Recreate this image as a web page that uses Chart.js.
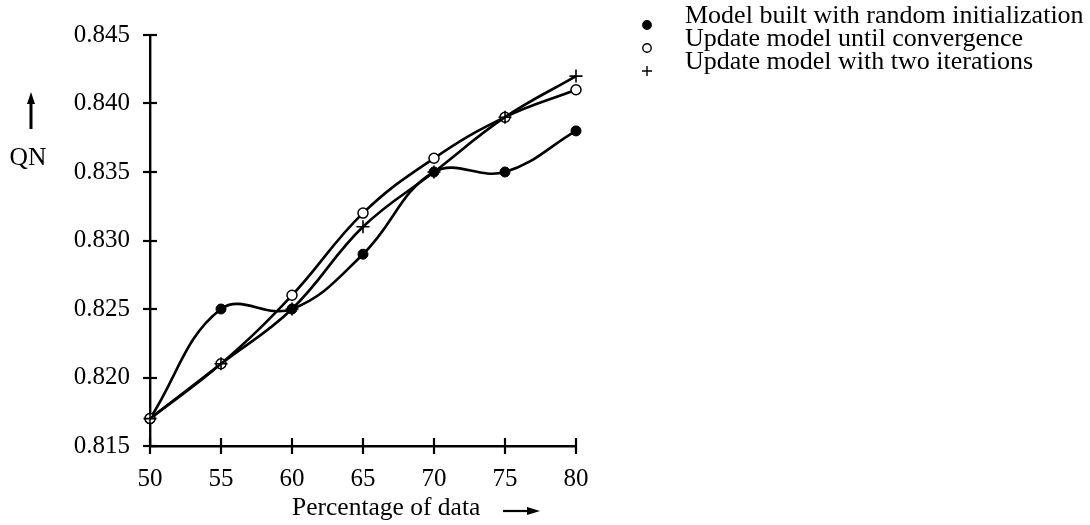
<!DOCTYPE html>
<html>
<head>
<meta charset="utf-8">
<script src="https://cdn.jsdelivr.net/npm/chart.js@4/dist/chart.umd.min.js"></script>
<style>
  html, body { margin: 0; padding: 0; background: #ffffff; }
  #wrap { width: 1090px; height: 525px; position: relative; }
</style>
</head>
<body>
<div id="wrap"><canvas id="chart" width="1090" height="525"></canvas></div>
<script>
// Percentage of data used (x) and QN score for each update strategy
const percentages = [50, 55, 60, 65, 70, 75, 80];
const randomInit = [0.817, 0.825, 0.825, 0.829, 0.835, 0.835, 0.838];
const untilConvergence = [0.817, 0.821, 0.826, 0.832, 0.836, 0.839, 0.841];
const twoIterations = [0.817, 0.821, 0.825, 0.831, 0.835, 0.839, 0.842];
const seriesLabels = [
  'Model built with random initialization',
  'Update model until convergence',
  'Update model with two iterations'
];
const xTicks = [50, 55, 60, 65, 70, 75, 80];
const yTicks = [0.815, 0.820, 0.825, 0.830, 0.835, 0.840, 0.845];
const xTitle = 'Percentage of data';
const yTitle = 'QN';

const FONT = '"Liberation Serif", "Times New Roman", serif';
const INK = '#000000';

function toPoints(values) {
  return percentages.map((p, i) => ({ x: p, y: values[i] }));
}

// Cross-shaped tick marks on both axes (half inside, half outside)
const crossTicks = {
  id: 'crossTicks',
  afterDraw(chart) {
    const ctx = chart.ctx;
    const xs = chart.scales.x, ys = chart.scales.y;
    ctx.save();
    ctx.strokeStyle = INK;
    ctx.lineWidth = 2.2;
    const ax = xs.left, ay = ys.bottom;
    ys.ticks.forEach(t => {
      const py = Math.round(ys.getPixelForValue(t.value));
      ctx.beginPath(); ctx.moveTo(ax - 7, py); ctx.lineTo(ax + 7, py); ctx.stroke();
    });
    xs.ticks.forEach(t => {
      const px = Math.round(xs.getPixelForValue(t.value));
      ctx.beginPath(); ctx.moveTo(px, ay - 8); ctx.lineTo(px, ay + 8); ctx.stroke();
    });
    ctx.restore();
  }
};

// Axis captions with direction arrows
const axisCaptions = {
  id: 'axisCaptions',
  afterDraw(chart) {
    const ctx = chart.ctx;
    ctx.save();
    ctx.fillStyle = INK;
    ctx.strokeStyle = INK;
    ctx.font = '25.5px ' + FONT;
    ctx.textBaseline = 'middle';
    // y caption
    ctx.textAlign = 'center';
    ctx.fillText(yTitle, 28, 158);
    ctx.lineWidth = 3;
    ctx.beginPath(); ctx.moveTo(31, 129); ctx.lineTo(31, 102); ctx.stroke();
    ctx.beginPath(); ctx.moveTo(31, 92); ctx.lineTo(27, 104); ctx.lineTo(35, 104); ctx.closePath(); ctx.fill();
    // x caption
    ctx.textAlign = 'left';
    ctx.fillText(xTitle, 292, 508);
    ctx.lineWidth = 2.2;
    ctx.beginPath(); ctx.moveTo(503, 511); ctx.lineTo(530, 511); ctx.stroke();
    ctx.beginPath(); ctx.moveTo(540, 511); ctx.lineTo(527, 507); ctx.lineTo(527, 515); ctx.closePath(); ctx.fill();
    ctx.restore();
  }
};

// Key to the right of the plot
const sideLegend = {
  id: 'sideLegend',
  afterDraw(chart) {
    const ctx = chart.ctx;
    ctx.save();
    ctx.font = '26px ' + FONT;
    ctx.textAlign = 'left';
    ctx.textBaseline = 'alphabetic';
    const rows = [23, 46, 69];
    chart.data.datasets.forEach((ds, i) => {
      const by = rows[i];
      ctx.fillStyle = INK;
      ctx.fillText(ds.label, 685, by);
      const mx = 647, my = by + 2;
      ctx.strokeStyle = INK;
      ctx.lineWidth = 1.4;
      if (ds.pointStyle === 'cross') {
        ctx.beginPath();
        ctx.moveTo(mx - 5, my); ctx.lineTo(mx + 5, my);
        ctx.moveTo(mx, my - 5); ctx.lineTo(mx, my + 5);
        ctx.stroke();
      } else {
        ctx.beginPath();
        ctx.arc(mx, my, 4.2, 0, Math.PI * 2);
        ctx.fillStyle = ds.pointBackgroundColor;
        ctx.fill();
        ctx.stroke();
      }
    });
    ctx.restore();
  }
};

new Chart(document.getElementById('chart'), {
  type: 'line',
  data: {
    datasets: [
      {
        label: seriesLabels[0],
        data: toPoints(randomInit),
        borderColor: INK, borderWidth: 2.6, tension: 0.4,
        pointStyle: 'circle', pointRadius: 5,
        pointBackgroundColor: INK, pointBorderColor: INK, pointBorderWidth: 1,
        clip: false, order: 3
      },
      {
        label: seriesLabels[1],
        data: toPoints(untilConvergence),
        borderColor: INK, borderWidth: 2.6, tension: 0.4,
        pointStyle: 'circle', pointRadius: 5,
        pointBackgroundColor: '#ffffff', pointBorderColor: INK, pointBorderWidth: 1.5,
        clip: false, order: 2
      },
      {
        label: seriesLabels[2],
        data: toPoints(twoIterations),
        borderColor: INK, borderWidth: 2.6, tension: 0.4,
        pointStyle: 'cross', pointRadius: 6.5,
        pointBackgroundColor: INK, pointBorderColor: INK, pointBorderWidth: 1.6,
        clip: false, order: 1
      }
    ]
  },
  options: {
    responsive: false,
    animation: false,
    layout: { padding: { left: 0, right: 514, top: 24, bottom: 0 } },
    plugins: {
      legend: { display: false },
      tooltip: { enabled: false }
    },
    scales: {
      x: {
        type: 'linear',
        min: xTicks[0], max: xTicks[xTicks.length - 1],
        afterFit(scale) { scale.height = 79; },
        afterBuildTicks(scale) { scale.ticks = xTicks.map(v => ({ value: v })); },
        grid: { display: true, drawOnChartArea: false, drawTicks: false },
        border: { display: true, color: INK, width: 2.4 },
        ticks: {
          color: INK, padding: 18,
          font: { family: FONT, size: 25 },
          maxRotation: 0,
          callback: v => String(v)
        }
      },
      y: {
        type: 'linear',
        min: yTicks[0], max: yTicks[yTicks.length - 1],
        afterFit(scale) { scale.width = 150; },
        afterBuildTicks(scale) { scale.ticks = yTicks.map(v => ({ value: v })); },
        grid: { display: true, drawOnChartArea: false, drawTicks: false },
        border: { display: true, color: INK, width: 2.4 },
        ticks: {
          color: INK, padding: 20,
          font: { family: FONT, size: 25 },
          callback: v => Number(v).toFixed(3)
        }
      }
    }
  },
  plugins: [crossTicks, axisCaptions, sideLegend]
});
</script>
</body>
</html>
